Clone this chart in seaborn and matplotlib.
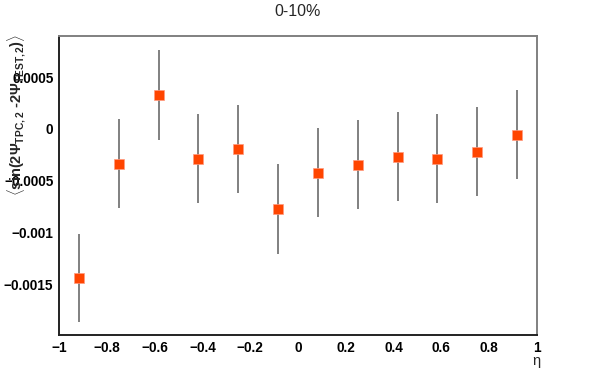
import numpy as np
import matplotlib
matplotlib.use("Agg")
import matplotlib.pyplot as plt
from matplotlib.ticker import MultipleLocator
import seaborn as sns

# centro dos bins em eta (12 bins de -1 a 1)
eta = [-0.9167, -0.75, -0.5833, -0.4167, -0.25, -0.0833,
       0.0833, 0.25, 0.4167, 0.5833, 0.75, 0.9167]
# <sin(2Psi_TPC - 2Psi_TEST)>
valores = [-0.001435, -0.000334, 0.000328, -0.000286, -0.000193, -0.000771,
           -0.000421, -0.000344, -0.000267, -0.000286, -0.000219, -0.000055]
erros = [0.000428, 0.000428, 0.000430, 0.000428, 0.000428, 0.000432,
         0.000430, 0.000428, 0.000430, 0.000428, 0.000428, 0.000428]

titulo = "0-10%"
xlabel = "\u03b7"
ylabel = r"$\langle$sin(2$\Psi_{\rm TPC,2}$ -2$\Psi_{\rm TEST,2}$)$\rangle$"

sns.set_style("white")
plt.rcParams["font.family"] = ["Liberation Sans", "DejaVu Sans"]
plt.rcParams["mathtext.fontset"] = "custom"
plt.rcParams["mathtext.rm"] = "Liberation Sans:bold"
plt.rcParams["mathtext.it"] = "Liberation Sans"
plt.rcParams["mathtext.bf"] = "Liberation Sans:bold"

fig = plt.figure(figsize=(5.97, 3.74), dpi=100)
ax = fig.add_axes([59 / 597, 1 - 335 / 374, 478 / 597, 299.3 / 374])

ax.errorbar(eta, valores, yerr=erros, fmt="none", ecolor="#808080",
            elinewidth=1.4, capsize=0, zorder=2)
sns.scatterplot(x=eta, y=valores, marker="s", s=46, color="#ff4500",
                edgecolor="#ff9a80", linewidth=0.5, ax=ax, zorder=3)

ax.set_xlim(-1, 1)
ax.set_ylim(-0.001985, 0.000899)

ax.xaxis.set_minor_locator(MultipleLocator(0.05))
ax.yaxis.set_minor_locator(MultipleLocator(0.0001))

def fmt(v):
    if abs(v) < 1e-12:
        return "0"
    s = ("%.4f" % v).rstrip("0").rstrip(".")
    return s.replace("-", "\u2212")

xt = np.round(np.arange(-1, 1.01, 0.2), 2)
ax.set_xticks(xt)
ax.set_xticklabels([fmt(v) for v in xt])
yt = [-0.0015, -0.001, -0.0005, 0, 0.0005]
ax.set_yticks(yt)
ax.set_yticklabels([fmt(v) for v in yt])

ax.tick_params(axis="both", which="both", direction="in", colors="#333333",
               labelcolor="black", labelsize=9.8)
ax.tick_params(axis="x", which="major", length=8, width=1.2, pad=4)
ax.tick_params(axis="x", which="minor", length=4, width=1.2)
ax.tick_params(axis="y", which="major", length=14, width=1.2, pad=4)
ax.tick_params(axis="y", which="minor", length=7, width=1.2)
for lab in ax.get_xticklabels() + ax.get_yticklabels():
    lab.set_fontweight("bold")

for side in ["left", "bottom"]:
    ax.spines[side].set_color("#222222")
    ax.spines[side].set_linewidth(1.4)
for side in ["top", "right"]:
    ax.spines[side].set_color("#808080")
    ax.spines[side].set_linewidth(1.4)

fig.text(298 / 597, 1 - 12 / 374, titulo, ha="center", va="center", fontsize=11.5)
fig.text(540 / 597, 1 - 361 / 374, xlabel, ha="right", va="center", fontsize=10.5)
fig.text(17 / 597, 1 - 34 / 374, ylabel, rotation=90, ha="center", va="top",
         fontsize=10.5, fontweight="bold")

fig.savefig("out.png", dpi=100)
